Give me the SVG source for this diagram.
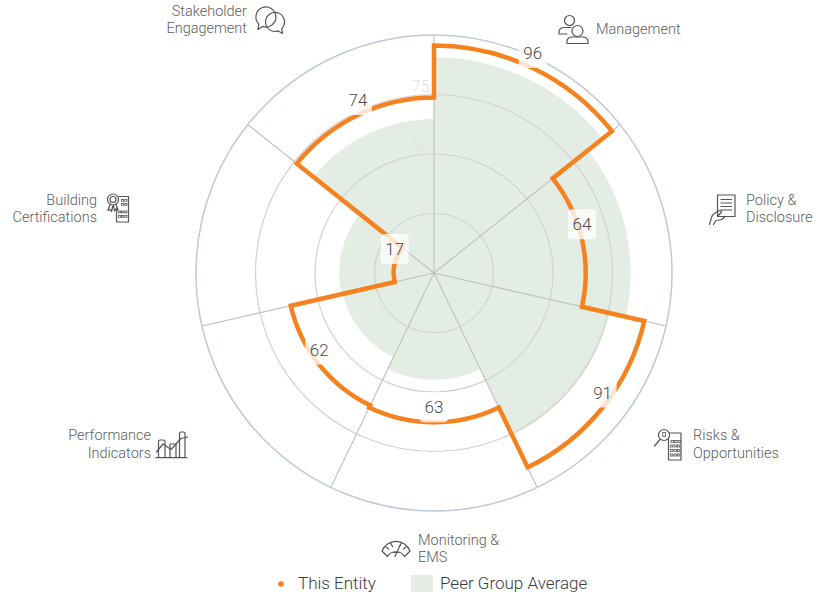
<svg xmlns="http://www.w3.org/2000/svg" width="816" height="595" viewBox="0 0 816 595">
<style>
.cat{font-family:Roboto,"Liberation Sans",sans-serif;font-size:14.5px;font-weight:300;fill:#5e5e5e}
.val{font-family:Roboto,"Liberation Sans",sans-serif;font-size:17px;font-weight:300;fill:#4a4a4a;text-anchor:middle}
.ring{fill:none;stroke:#d2d2d2;stroke-width:1.2}
.spoke{stroke:#bfbfbf;stroke-width:1.1}
.tick{font-family:Roboto,"Liberation Sans",sans-serif;font-size:16px;font-weight:300;fill:#e3e3e3;text-anchor:end}
.ico{fill:none;stroke:#555;stroke-width:1.2;stroke-linecap:round;stroke-linejoin:round}
.win{fill:none;stroke:#555;stroke-width:0.8}
.box{fill:#fff;fill-opacity:0.78}
.leg{font-family:Roboto,"Liberation Sans",sans-serif;font-size:17px;font-weight:300;fill:#3c3c3c}
</style>
<rect width="816" height="595" fill="#fff"/>
<g id="peer-average">
<path fill="#e4ede3" d="M 434 57.3 A 215.7 215.7 0 0 1 602.64 138.51 L 587.79 150.36 A 196.7 196.7 0 0 1 625.77 316.77 L 609.58 313.08 A 180.1 180.1 0 0 1 512.14 435.27 L 480.3 369.13 A 106.7 106.7 0 0 1 387.7 369.13 L 393.39 357.33 A 93.6 93.6 0 0 1 342.75 293.83 L 341.58 294.09 A 94.8 94.8 0 0 1 359.88 213.89 L 313.6 176.98 A 154 154 0 0 1 434 119 Z"/>
</g>
<g id="grid">
<circle class="ring" cx="434" cy="273" r="59.5"/>
<circle class="ring" cx="434" cy="273" r="119"/>
<circle class="ring" cx="434" cy="273" r="178.5"/>
<line class="spoke" x1="434" y1="273" x2="434" y2="35"/>
<line class="spoke" x1="434" y1="273" x2="620.08" y2="124.61"/>
<line class="spoke" x1="434" y1="273" x2="666.03" y2="325.96"/>
<line class="spoke" x1="434" y1="273" x2="537.26" y2="487.43"/>
<line class="spoke" x1="434" y1="273" x2="330.74" y2="487.43"/>
<line class="spoke" x1="434" y1="273" x2="201.97" y2="325.96"/>
<line class="spoke" x1="434" y1="273" x2="247.92" y2="124.61"/>
<circle cx="434" cy="273" r="238" fill="none" stroke="#bccad9" stroke-width="1.5"/>
<text class="tick" x="429.5" y="210.5">25</text>
<text class="tick" x="429.5" y="151">50</text>
<text class="tick" x="429.5" y="92">75</text>
</g>
<g id="connectors">
<path fill="none" stroke="#f5821f" stroke-width="4.5" stroke-linejoin="miter" d="M 434 45.5 A 227.5 227.5 0 0 1 611.87 131.16 L 552.6 178.42 A 151.7 151.7 0 0 1 581.9 306.76 L 644.29 321 A 215.7 215.7 0 0 1 527.59 467.34 L 498.78 407.51 A 149.3 149.3 0 0 1 369.22 407.51 L 370.26 405.35 A 146.9 146.9 0 0 1 290.78 305.69 L 394.71 281.97 A 40.3 40.3 0 0 1 402.49 247.87 L 296.87 163.64 A 175.4 175.4 0 0 1 434 97.6 Z"/>
</g>
<g id="values">
<rect class="box" x="518.7" y="38" width="28" height="30" rx="4"/>
<text class="val" x="532.7" y="59">96</text>
<rect class="box" x="567.9" y="209.2" width="28" height="30" rx="4"/>
<text class="val" x="581.9" y="230.2">64</text>
<rect class="box" x="588.6" y="377.5" width="28" height="30" rx="4"/>
<text class="val" x="602.6" y="398.5">91</text>
<rect class="box" x="420" y="392.3" width="28" height="30" rx="4"/>
<text class="val" x="434" y="413.3">63</text>
<rect class="box" x="305.2" y="334.6" width="28" height="30" rx="4"/>
<text class="val" x="319.2" y="355.6">62</text>
<rect class="box" x="380.7" y="234" width="28" height="30" rx="4"/>
<text class="val" x="394.7" y="255">17</text>
<rect class="box" x="343.9" y="85" width="28" height="30" rx="4"/>
<text class="val" x="357.9" y="106">74</text>
</g>
<g id="node-management">
<circle class="ico" cx="569.5" cy="20.5" r="5"/>
<path class="ico" d="M 559 34 L 559 32 Q 559 27.5 565 27.5 L 571 27.5 M 559 34 L 567 34"/>
<circle class="ico" cx="577.5" cy="31" r="5.5" style="fill:#fff"/>
<path class="ico" d="M 567 43.5 L 567 41.5 Q 567 37 573 37 L 582 37 Q 588 37 588 41.5 L 588 43.5 Z"/>
<text class="cat" x="596" y="33.5">Management</text>
</g>
<g id="node-policy">
<rect class="ico" x="717.5" y="195" width="17.5" height="21.5"/>
<path class="ico" d="M 721 199.5 H 731.5 M 721 203 H 731.5 M 721 206.5 H 731.5 M 721 210 H 731.5"/>
<path class="ico" d="M 709.5 224.5 L 711.5 217.5 Q 712.5 214.5 715 213 L 719.5 210.5 Q 721.5 210 721.5 212 L 718 216 M 713.5 224.5 L 716 220.5 L 722 219.5 L 725 216.5"/>
<text class="cat" x="746" y="205">Policy &amp;</text>
<text class="cat" x="746" y="221.5">Disclosure</text>
</g>
<g id="node-risks">
<rect class="ico" x="668.5" y="433" width="12.5" height="27"/>
<circle class="ico" cx="664" cy="435" r="5.5" style="fill:#fff"/>
<rect class="win" x="662.8" y="432.5" width="2.6" height="4"/>
<line class="ico" x1="660" y1="439.5" x2="654.5" y2="446" stroke-width="1.8"/>
<g class="win">
<rect x="671" y="440.5" width="2.4" height="2"/><rect x="674.5" y="440.5" width="2.4" height="2"/><rect x="678" y="440.5" width="2.4" height="2"/>
<rect x="670.5" y="445" width="2.4" height="2"/><rect x="674" y="445" width="2.4" height="2"/><rect x="677.5" y="445" width="2.4" height="2"/>
<rect x="670.5" y="449.5" width="2.4" height="2"/><rect x="674" y="449.5" width="2.4" height="2"/><rect x="677.5" y="449.5" width="2.4" height="2"/>
<rect x="670.5" y="454" width="2.4" height="2"/><rect x="674" y="454" width="2.4" height="2"/><rect x="677.5" y="454" width="2.4" height="2"/>
</g>
<text class="cat" x="693" y="440">Risks &amp;</text>
<text class="cat" x="693" y="457.5">Opportunities</text>
</g>
<g id="node-monitoring">
<path class="ico" d="M 382 551 A 15 15 0 0 1 410 551 L 404.5 556.5 A 10 10 0 0 0 387.5 556.5 Z"/>
<path class="ico" d="M 386 547 L 388.5 549 M 391 543.5 L 392.5 546.5 M 401 543.5 L 399.5 546.5 M 406 547 L 403.5 549"/>
<path class="ico" d="M 395 556.5 L 400 545.5 M 393.5 552.5 L 398.5 552.5"/>
<text class="cat" x="418" y="545">Monitoring &amp;</text>
<text class="cat" x="418" y="562">EMS</text>
</g>
<g id="node-performance">
<path class="ico" d="M 156 457.7 H 187 M 158.5 457.7 V 441.5 Q 158.5 440 160 440 H 163.5 Q 165 440 165 441.5 V 457.7 M 170 457.7 V 444 H 176 V 457.7 M 179.5 457.7 V 433.5 Q 179.5 432 181 432 H 183.5 Q 185 432 185 433.5 V 457.7"/>
<polyline class="ico" points="156.5,452 163,444 171,449.5 181,438.5 187.5,437"/>
<text class="cat" x="151" y="440" text-anchor="end">Performance</text>
<text class="cat" x="151" y="457.5" text-anchor="end">Indicators</text>
</g>
<g id="node-building">
<path class="ico" d="M 119 196.5 L 128.5 196.5 L 128.5 222 L 116.5 222 L 116.5 208"/>
<g class="win">
<rect x="121.5" y="199.5" width="2.2" height="1.8"/><rect x="124.8" y="199.5" width="2.2" height="1.8"/>
<rect x="121.5" y="203.5" width="2.2" height="1.8"/><rect x="124.8" y="203.5" width="2.2" height="1.8"/>
<rect x="118.3" y="211" width="2.2" height="1.8"/><rect x="121.5" y="211" width="2.2" height="1.8"/><rect x="124.8" y="211" width="2.2" height="1.8"/>
<rect x="118.3" y="215.5" width="2.2" height="1.8"/><rect x="121.5" y="215.5" width="2.2" height="1.8"/><rect x="124.8" y="215.5" width="2.2" height="1.8"/>
</g>
<circle class="ico" cx="113" cy="199.5" r="5.5" style="fill:#fff"/>
<circle class="ico" cx="113" cy="199.5" r="3"/>
<path class="ico" d="M 110 204.5 L 108 210.5 L 110.5 209.5 L 111.5 211.5 L 113 205.5 M 116 204.5 L 118 210 L 115.5 209.3 L 114.5 211 L 113.5 205.5"/>
<text class="cat" x="97" y="205" text-anchor="end">Building</text>
<text class="cat" x="97" y="221.5" text-anchor="end">Certifications</text>
</g>
<g id="node-stakeholder">
<path class="ico" d="M 262.6 26.4 A 10 10 0 1 0 258.9 24.1 L 258 29.5 Z"/>
<path class="ico" d="M 281.7 28.7 A 9.5 9.5 0 1 0 278.2 30.9 L 282.5 33.5 Z"/>
<text class="cat" x="247" y="16" text-anchor="end">Stakeholder</text>
<text class="cat" x="247" y="33" text-anchor="end">Engagement</text>
</g>
<g id="legend">
<circle cx="281" cy="584" r="2.8" fill="#f5821f"/>
<text class="leg" x="298" y="589">This Entity</text>
<rect x="411" y="575" width="22" height="17" fill="#e4ede3"/>
<text class="leg" x="440" y="589">Peer Group Average</text>
</g>
</svg>
